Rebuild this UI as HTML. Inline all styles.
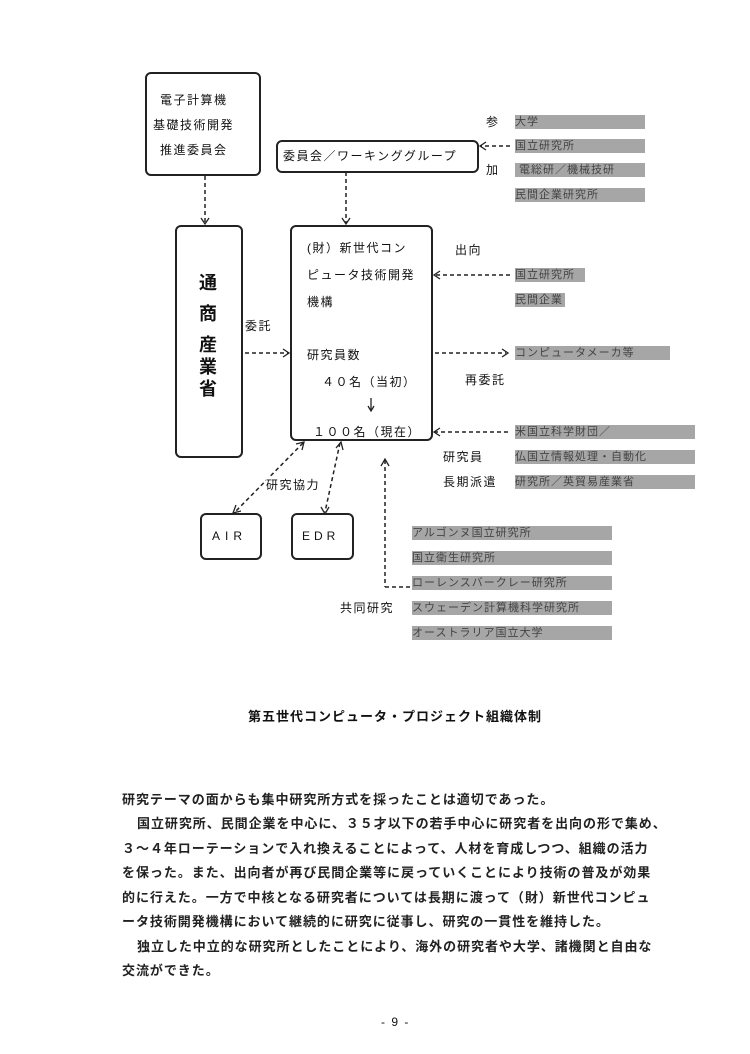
<!DOCTYPE html>
<html><head><meta charset="utf-8"><style>
body{margin:0;background:#fff;}
#p{position:relative;width:750px;height:1054px;overflow:hidden;font-family:"Liberation Sans","Noto Sans CJK JP",sans-serif;color:#111;}
.t{position:absolute;font-size:12px;line-height:16px;white-space:nowrap;letter-spacing:1.5px;}
.b{position:absolute;border:2px solid #222;border-radius:6px;box-sizing:border-box;}
.g{position:absolute;height:14px;background:#a6a6a6;font-size:11px;line-height:14px;color:#444;white-space:nowrap;letter-spacing:1px;}
.para{position:absolute;left:122px;font-size:13px;line-height:18px;letter-spacing:0.95px;white-space:nowrap;font-weight:bold;color:#222;}
</style></head><body><div id="p">
<svg width="750" height="1054" style="position:absolute;left:0;top:0" fill="none" stroke="#222" stroke-width="1.5">
<g stroke-dasharray="4,3">
<line x1="205" y1="176" x2="205" y2="223"/>
<line x1="346" y1="172" x2="346" y2="223"/>
<line x1="510" y1="146" x2="481" y2="146"/>
<line x1="510" y1="275" x2="435" y2="275"/>
<line x1="245" y1="353" x2="288" y2="353"/>
<line x1="435" y1="353" x2="506" y2="353"/>
<line x1="508" y1="432" x2="435" y2="432"/>
<line x1="303" y1="443" x2="235" y2="512"/>
<line x1="340" y1="443" x2="325" y2="512"/>
<line x1="385" y1="460" x2="385" y2="587"/>
<line x1="385" y1="587" x2="410" y2="587"/>
</g>
<g stroke-width="1.3">
<polyline points="201,218 205,224 209,218"/>
<polyline points="342,218 346,224 350,218"/>
<polyline points="486,142 480,146 486,150"/>
<polyline points="440,271 434,275 440,279"/>
<polyline points="283,349 289,353 283,357"/>
<polyline points="502,349 508,353 502,357"/>
<polyline points="440,428 434,432 440,436"/>
<polyline points="296,444 304,442 302,450"/>
<polyline points="236,505 233,513 241,511"/>
<polyline points="336,448 341,442 343,450"/>
<polyline points="321,507 325,514 329,507"/>
<polyline points="381,466 385,459 389,466"/>
<line x1="371" y1="398" x2="371" y2="410"/>
<polyline points="368,406 371,411 374,406"/>
</g>
</svg>

<div class="b" style="left:145px;top:72px;width:116px;height:104px"></div>
<div class="t" style="left:160px;top:92px">電子計算機</div>
<div class="t" style="left:153px;top:117px">基礎技術開発</div>
<div class="t" style="left:160px;top:142px">推進委員会</div>

<div class="b" style="left:276px;top:140px;width:203px;height:33px"></div>
<div class="t" style="left:283px;top:148px">委員会／ワーキンググループ</div>

<div class="b" style="left:175px;top:225px;width:68px;height:233px"></div>
<div class="t" style="left:199px;top:272px;font-size:18px;line-height:22px;font-weight:bold">通</div>
<div class="t" style="left:199px;top:303px;font-size:18px;line-height:22px;font-weight:bold">商</div>
<div class="t" style="left:199px;top:334px;font-size:18px;line-height:22px;font-weight:bold">産</div>
<div class="t" style="left:199px;top:356px;font-size:18px;line-height:22px;font-weight:bold">業</div>
<div class="t" style="left:199px;top:378px;font-size:18px;line-height:22px;font-weight:bold">省</div>

<div class="b" style="left:290px;top:225px;width:143px;height:216px"></div>
<div class="t" style="left:307px;top:240px">(財）新世代コン</div>
<div class="t" style="left:307px;top:267px">ピュータ技術開発</div>
<div class="t" style="left:307px;top:294px">機構</div>
<div class="t" style="left:307px;top:347px">研究員数</div>
<div class="t" style="left:322px;top:374px">４０名（当初）</div>
<div class="t" style="left:313px;top:424px">１００名（現在）</div>

<div class="t" style="left:455px;top:242px">出向</div>
<div class="t" style="left:486px;top:114px">参</div>
<div class="t" style="left:486px;top:162px">加</div>
<div class="g" style="left:515px;top:115px;width:130px">大学</div>
<div class="g" style="left:515px;top:139px;width:130px">国立研究所</div>
<div class="g" style="left:515px;top:163px;width:130px">&nbsp;電総研／機械技研</div>
<div class="g" style="left:515px;top:188px;width:130px">民間企業研究所</div>
<div class="g" style="left:515px;top:268px;width:70px">国立研究所</div>
<div class="g" style="left:515px;top:293px;width:50px">民間企業</div>
<div class="t" style="left:245px;top:318px">委託</div>
<div class="g" style="left:515px;top:346px;width:155px">コンピュータメーカ等</div>
<div class="t" style="left:465px;top:372px">再委託</div>
<div class="g" style="left:515px;top:425px;width:180px">米国立科学財団／</div>
<div class="g" style="left:515px;top:450px;width:180px">仏国立情報処理・自動化</div>
<div class="g" style="left:515px;top:475px;width:180px">研究所／英貿易産業省</div>
<div class="t" style="left:443px;top:449px">研究員</div>
<div class="t" style="left:443px;top:474px">長期派遣</div>
<div class="t" style="left:266px;top:477px;background:#fff">研究協力</div>

<div class="b" style="left:200px;top:513px;width:62px;height:47px"></div>
<div class="t" style="left:212px;top:528px;letter-spacing:5px">AIR</div>
<div class="b" style="left:291px;top:513px;width:63px;height:47px"></div>
<div class="t" style="left:302px;top:528px;letter-spacing:4px">EDR</div>

<div class="g" style="left:412px;top:526px;width:200px">アルゴンヌ国立研究所</div>
<div class="g" style="left:412px;top:551px;width:200px">国立衛生研究所</div>
<div class="g" style="left:412px;top:576px;width:200px">ローレンスバークレー研究所</div>
<div class="g" style="left:412px;top:601px;width:200px">スウェーデン計算機科学研究所</div>
<div class="g" style="left:412px;top:626px;width:200px">オーストラリア国立大学</div>
<div class="t" style="left:340px;top:600px">共同研究</div>

<div class="t" style="left:248px;top:709px;font-size:13px;font-weight:bold;letter-spacing:1px">第五世代コンピュータ・プロジェクト組織体制</div>

<div class="para" style="top:791px">研究テーマの面からも集中研究所方式を採ったことは適切であった。</div>
<div class="para" style="top:815px;left:137px">国立研究所、民間企業を中心に、３５才以下の若手中心に研究者を出向の形で集め、</div>
<div class="para" style="top:840px">３～４年ローテーションで入れ換えることによって、人材を育成しつつ、組織の活力</div>
<div class="para" style="top:864px">を保った。また、出向者が再び民間企業等に戻っていくことにより技術の普及が効果</div>
<div class="para" style="top:889px">的に行えた。一方で中核となる研究者については長期に渡って（財）新世代コンピュ</div>
<div class="para" style="top:913px">ータ技術開発機構において継続的に研究に従事し、研究の一貫性を維持した。</div>
<div class="para" style="top:938px;left:137px">独立した中立的な研究所としたことにより、海外の研究者や大学、諸機関と自由な</div>
<div class="para" style="top:962px">交流ができた。</div>
<div class="t" style="left:381px;top:1014px;font-size:12px">- 9 -</div>
</div></body></html>
